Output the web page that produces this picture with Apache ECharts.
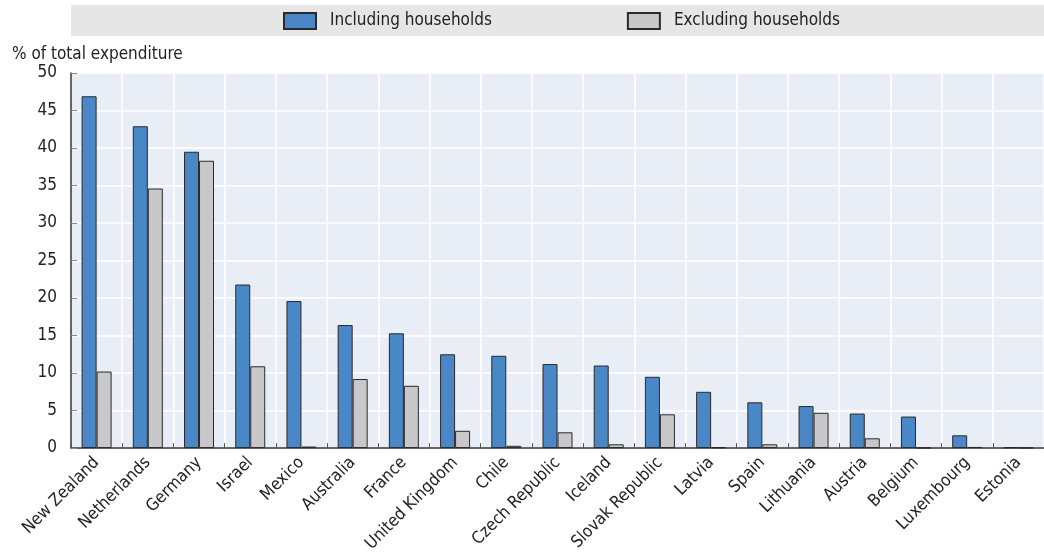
<!DOCTYPE html>
<html><head><meta charset="utf-8">
<script src="https://cdn.jsdelivr.net/npm/echarts@6/dist/echarts.min.js"></script>
<style>html,body{margin:0;padding:0;background:#fff;overflow:hidden}#c{width:1044px;height:555px}</style>
</head><body><div id="c"></div>
<script>
const categories = ["New Zealand","Netherlands","Germany","Israel","Mexico","Australia","France","United Kingdom","Chile","Czech Republic","Iceland","Slovak Republic","Latvia","Spain","Lithuania","Austria","Belgium","Luxembourg","Estonia"];
const including = [46.9,42.9,39.5,21.8,19.6,16.4,15.3,12.5,12.3,11.2,11.0,9.5,7.5,6.1,5.6,4.6,4.2,1.7,0.1];
const excluding = [10.2,34.6,38.3,10.9,0.2,9.2,8.3,2.3,0.3,2.1,0.5,4.5,0.1,0.5,4.7,1.3,0.05,0.15,0.05];
const yTicks = [0,5,10,15,20,25,30,35,40,45,50];

const FONT = '"DejaVu Sans Condensed","Liberation Sans Narrow","Roboto",sans-serif';
const chart = echarts.init(document.getElementById('c'), null, {renderer:'canvas'});
chart.setOption({
  animation:false,
  textStyle:{fontFamily:FONT},
  graphic:[{type:'rect',z:-1,shape:{x:71,y:5,width:973,height:31},style:{fill:'#e6e6e7'}}],
  legend:{
    top:7, left:278, itemGap:135, itemWidth:32, itemHeight:16, icon:'rect',
    textStyle:{fontFamily:FONT,fontSize:17,color:'#222',padding:[0,0,0,9]},
    data:['Including households','Excluding households']
  },
  grid:{left:71, top:73, width:984, height:378, containLabel:false, show:true, backgroundColor:'#e9edf6', borderWidth:0},
  xAxis:{
    type:'category', data:categories,
    axisLine:{show:true,lineStyle:{color:'#333',width:1.5}},
    axisTick:{show:true,inside:true,length:5,lineStyle:{color:'#555'}},
    splitLine:{show:true,lineStyle:{color:'#fff',width:1.5}},
    axisLabel:{rotate:45,fontSize:17,color:'#222',margin:12,fontFamily:FONT,interval:0}
  },
  yAxis:{
    type:'value', min:0, max:50, interval:5,
    name:'% of total expenditure', nameLocation:'end', nameGap:10,
    nameTextStyle:{align:'left',fontSize:17,color:'#222',padding:[0,0,0,-59],fontFamily:FONT},
    axisLine:{show:true,lineStyle:{color:'#333',width:1.5}},
    axisTick:{show:true,inside:true,length:6,lineStyle:{color:'#888'}},
    splitLine:{show:true,lineStyle:{color:'#fff',width:1.5}},
    axisLabel:{fontSize:17,color:'#222',margin:14,fontFamily:FONT,
      formatter:v=>yTicks.includes(v)?String(v):''}
  },
  series:[
    {name:'Including households',type:'bar',data:including,barWidth:15,barGap:'0%',
     itemStyle:{color:'#4a87c7',borderColor:'#2a2a2a',borderWidth:1}},
    {name:'Excluding households',type:'bar',data:excluding,barWidth:15,barGap:'0%',
     itemStyle:{color:'#c8c8ca',borderColor:'#2a2a2a',borderWidth:1}}
  ]
});
</script></body></html>
